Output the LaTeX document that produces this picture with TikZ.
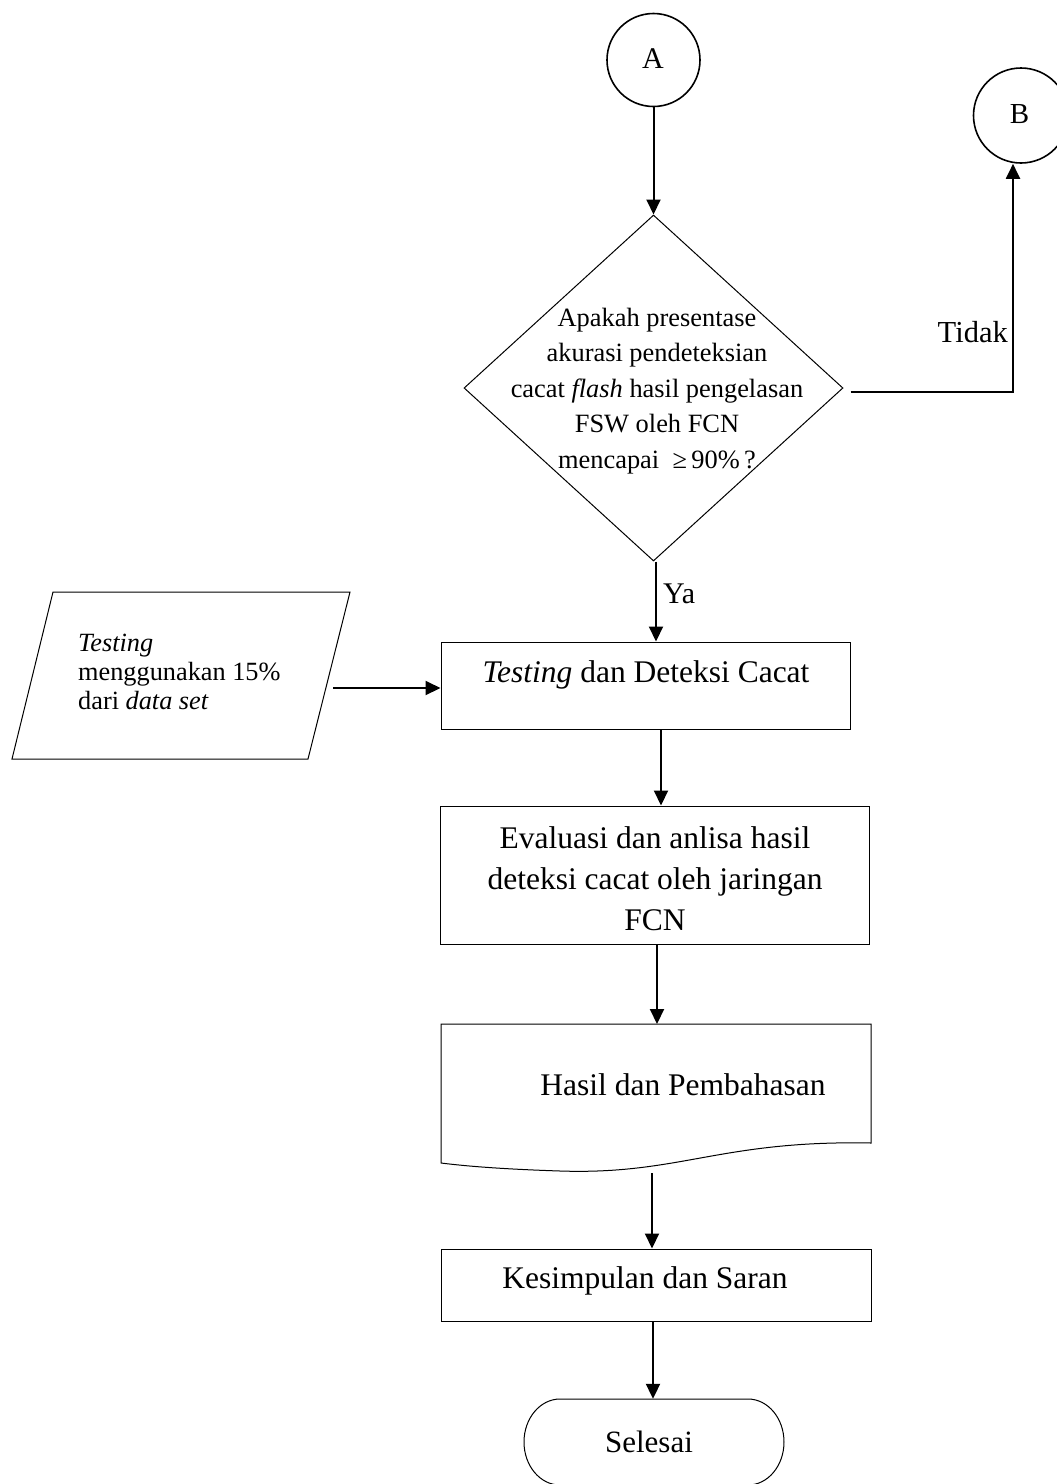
\documentclass[tikz,border=0pt]{standalone}
\usepackage{fontspec}
\setmainfont{Liberation Serif}
\usetikzlibrary{arrows.meta,shapes.geometric}
\begin{document}
\begin{tikzpicture}[x=1pt,y=-1pt,
  shapeline/.style={draw=black,line width=1pt},
  conn/.style={draw=black,line width=2pt,-{Triangle[length=15pt,width=14pt]}},
  linkcircle/.style={circle,draw=black,line width=1.6pt,inner sep=0pt},
  procbox/.style={rectangle,shapeline,inner sep=0pt},
  bigtext/.style={inner sep=0pt,font=\fontsize{31.5}{41}\selectfont},
  smalltext/.style={inner sep=0pt,font=\fontsize{26.4}{35.5}\selectfont},
]
\useasboundingbox (0,0) rectangle (1057,1484);
\fill[white] (0,0) rectangle (1057,1484);

% off-page connectors
\node[linkcircle,minimum size=93] (A) at (653.5,60) {};
\node[anchor=base,inner sep=0pt,font=\fontsize{30}{30}\selectfont] (Atxt) at (653,68) {A};
\node[linkcircle,minimum size=95] (B) at (1021,115.5) {};
\node[anchor=base,inner sep=0pt,font=\fontsize{29}{29}\selectfont] (Btxt) at (1019.5,123) {B};

% decision
\node[diamond,shapeline,minimum width=379,minimum height=346,inner sep=0pt] (dec) at (653.5,388) {};
\node[smalltext,align=center] (dectxt) at (657,391) {Apakah presentase\\akurasi pendeteksian\\cacat \textit{flash} hasil pengelasan\\FSW oleh FCN\\mencapai \ ≥\,90\%\,?};

% input data
\draw[shapeline] (53,592) -- (350,592) -- (308,759) -- (12,759) -- cycle;
\node[align=left,anchor=west,inner sep=0pt,font=\fontsize{26.3}{29}\selectfont] (inp) at (78,672) {\textit{Testing}\\menggunakan 15\%\\dari \textit{data set}};
\coordinate (inpout) at (333,688);

% process boxes
\node[procbox,minimum width=409,minimum height=87] (box1) at (645.5,685.5) {};
\node[bigtext,anchor=base] (box1txt) at (646,682) {\textit{Testing} dan Deteksi Cacat};

\node[procbox,minimum width=429,minimum height=138] (box2) at (654.5,875) {};
\node[bigtext,align=center] (box2txt) at (655,878.4) {Evaluasi dan anlisa hasil\\deteksi cacat oleh jaringan\\FCN};

% document
\node[minimum width=430,minimum height=119,inner sep=0pt] (doc) at (656,1083.5) {};
\draw[shapeline] (441,1024) -- (871,1024) -- (871,1143)
  .. controls (720,1140) and (680,1175) .. (560,1171)
  .. controls (500,1169) and (465,1166) .. (441,1163) -- cycle;
\node[bigtext,anchor=base] (doctxt) at (683,1095) {Hasil dan Pembahasan};
\coordinate (docin) at (657,1024);
\coordinate (docout) at (652,1173);

\node[procbox,minimum width=430,minimum height=72] (box3) at (656,1285) {};
\node[bigtext,anchor=base] (box3txt) at (645,1288) {Kesimpulan dan Saran};

% terminator with elliptical ends
\node[minimum width=260,minimum height=86,inner sep=0pt] (end) at (654,1442) {};
\draw[shapeline] (560,1399) -- (748,1399)
  arc[start angle=-90,end angle=90,x radius=36,y radius=43]
  -- (560,1485)
  arc[start angle=90,end angle=270,x radius=36,y radius=43] -- cycle;
\node[anchor=base,inner sep=0pt,font=\fontsize{31}{31}\selectfont] (endtxt) at (649,1452) {Selesai};

% connectors
\draw[conn] (A.south) -- (dec.north);
\draw[conn] ([xshift=7pt,yshift=-4pt]dec.east) -| ([xshift=-8pt]B.south);
\node[anchor=base east,inner sep=0pt,font=\fontsize{30.5}{30.5}\selectfont] (tidak) at (1008,342) {Tidak};
\draw[conn] ([xshift=2.5pt]dec.south) -- ([xshift=2.5pt]dec.south |- box1.north);
\node[anchor=base west,inner sep=0pt,font=\fontsize{30}{30}\selectfont] (ya) at (663,603) {Ya};
\draw[conn] (inpout) -- (inpout -| box1.west);
\draw[conn] ([xshift=15.5pt]box1.south) -- ([xshift=15.5pt]box1.south |- box2.north);
\draw[conn] (box2.south -| docin) -- (docin);
\draw[conn] (docout) -- (docout |- box3.north);
\draw[conn] ([xshift=-3pt]box3.south) -- ([xshift=-3pt]box3.south |- end.north);
\end{tikzpicture}
\end{document}
